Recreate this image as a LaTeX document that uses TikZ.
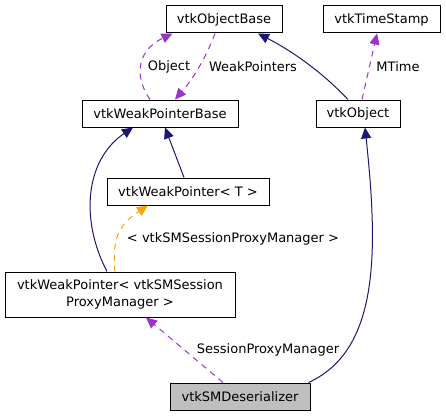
\documentclass[tikz,border=0pt]{standalone}
\usepackage{fontspec}
\setmainfont{DejaVu Sans}
\usetikzlibrary{arrows.meta,calc}
\definecolor{navyedge}{HTML}{191970}
\definecolor{purpedge}{HTML}{9A32CD}
\definecolor{orangeedge}{HTML}{FFA500}
\definecolor{grayfill}{HTML}{BFBFBF}
\tikzset{
  cls/.style={draw=black, line width=1pt, fill=white, rectangle, inner sep=0pt, font=\fontsize{13}{17}\selectfont, align=center},
  lbl/.style={font=\fontsize{13}{17}\selectfont, inner sep=0pt},
  inh/.style={draw=navyedge, line width=1pt, -{Triangle[length=11pt,width=10pt]}},
  usage/.style={draw=purpedge, line width=1pt, dash pattern=on 6pt off 5pt, -{Triangle[length=11pt,width=10pt]}},
  tmpl/.style={draw=orangeedge, line width=1pt, dash pattern=on 6pt off 5pt, -{Triangle[length=11pt,width=10pt]}}
}
\begin{document}
\begin{tikzpicture}[x=1pt,y=-1pt]
\useasboundingbox (0,0) rectangle (446,417);
\node[cls, minimum width=116pt, minimum height=27pt] (obase) at (224,19.5) {vtkObjectBase};
\node[cls, minimum width=117pt, minimum height=27pt] (ts) at (381.5,19.5) {vtkTimeStamp};
\node[cls, minimum width=156pt, minimum height=27pt] (wpb) at (160,113.5) {vtkWeakPointerBase};
\node[cls, minimum width=84pt, minimum height=27pt] (vobj) at (358,113.5) {vtkObject};
\node[cls, minimum width=162pt, minimum height=27pt] (wpT) at (188,191.5) {vtkWeakPointer< T >};
\node[cls, minimum width=230pt, minimum height=45pt] (wpSM) at (120,294.5) {vtkWeakPointer< vtkSMSession\\ProxyManager >};
\node[cls, fill=grayfill, minimum width=140pt, minimum height=27pt] (des) at (240,396.5) {vtkSMDeserializer};

\draw[usage] ($(wpb.north)+(-10,0)$) .. controls (136,80) and (134,52) .. ($(obase.south west)+(7,0)$);
\node[lbl] (lobj) at (169,67) {Object};
\draw[usage] ($(obase.south)+(-9,0)$) .. controls (205,60) and (192,80) .. ($(wpb.north)+(15,0)$);
\node[lbl] (lwp) at (253,67) {WeakPointers};
\draw[inh] ($(vobj.north)+(-10,0)$) .. controls (320,70) and (290,50) .. ($(obase.south)+(34,0)$);
\draw[usage] ($(vobj.north)+(4,0)$) -- ($(ts.south)+(-4.5,0)$);
\node[lbl] (lmt) at (398,67) {MTime};
\draw[inh] ($(wpT.north)+(-4,0)$) -- ($(wpb.south)+(5,0)$);
\draw[inh] ($(wpSM.north)+(-13,0)$) .. controls (80,220) and (85,160) .. ($(wpb.south)+(-27,0)$);
\draw[tmpl] ($(wpSM.north)+(-5,0)$) .. controls (112,240) and (118,225) .. ($(wpT.south)+(-40,0)$);
\node[lbl] (ltm) at (233,239) {< vtkSMSessionProxyManager >};
\draw[usage] ($(des.north)+(-17,0)$) -- ($(wpSM.south)+(26,0)$);
\node[lbl] (lspm) at (268,350) {SessionProxyManager};
\draw[inh] ($(des.north east)+(-2,0)$) .. controls (380,350) and (378,250) .. ($(vobj.south)+(7,0)$);
\end{tikzpicture}
\end{document}
